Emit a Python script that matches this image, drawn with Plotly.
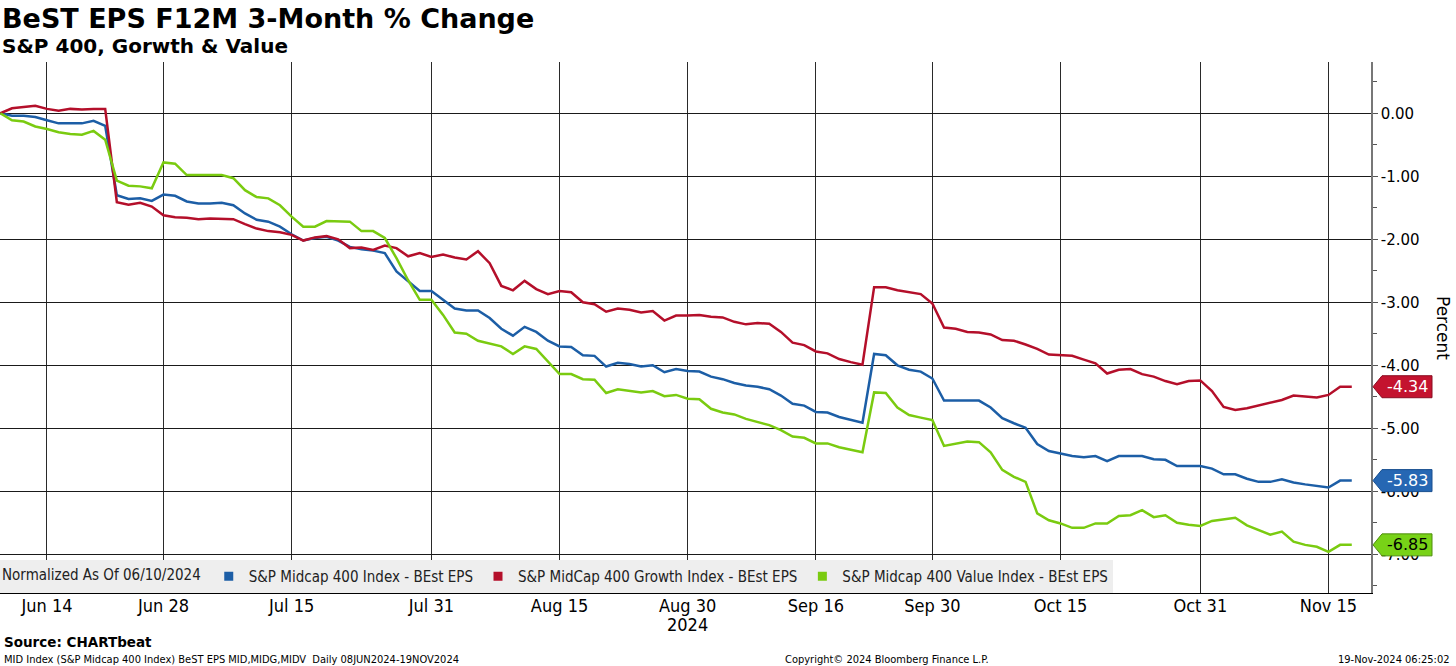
import pandas as pd
import plotly.graph_objects as go

# ---------------- data ----------------
dates = pd.bdate_range("2024-06-10", "2024-11-19")  # weekday calendar (Bloomberg style)

mid400 = [0.00, -0.04, -0.04, -0.06, -0.11, -0.16, -0.16, -0.16, -0.12, -0.20,
          -1.30, -1.36, -1.35, -1.39, -1.29, -1.31, -1.40, -1.43, -1.43, -1.42,
          -1.46, -1.59, -1.69, -1.72, -1.80, -1.92, -2.02, -1.98, -1.96, -2.02,
          -2.12, -2.16, -2.18, -2.22, -2.51, -2.67, -2.82, -2.82, -2.96, -3.10,
          -3.13, -3.13, -3.25, -3.42, -3.53, -3.39, -3.47, -3.61, -3.70, -3.71,
          -3.84, -3.85, -4.02, -3.96, -3.98, -4.02, -4.00, -4.11, -4.06, -4.09,
          -4.10, -4.18, -4.22, -4.28, -4.32, -4.34, -4.38, -4.48, -4.61, -4.64,
          -4.74, -4.75, -4.82, -4.87, -4.91, -3.82, -3.84, -4.00, -4.07, -4.10,
          -4.21, -4.56, -4.56, -4.56, -4.56, -4.67, -4.84, -4.92, -4.99, -5.25,
          -5.36, -5.40, -5.44, -5.46, -5.44, -5.52, -5.44, -5.44, -5.44, -5.49,
          -5.50, -5.60, -5.60, -5.60, -5.64, -5.73, -5.73, -5.80, -5.85, -5.85,
          -5.81, -5.86, -5.89, -5.92, -5.94, -5.83, -5.83]

growth = [0.00, 0.08, 0.10, 0.12, 0.07, 0.04, 0.07, 0.06, 0.07, 0.07,
          -1.41, -1.45, -1.42, -1.48, -1.62, -1.65, -1.66, -1.68, -1.67, -1.67,
          -1.68, -1.76, -1.83, -1.87, -1.89, -1.93, -2.02, -1.97, -1.95, -2.00,
          -2.14, -2.13, -2.17, -2.10, -2.14, -2.27, -2.22, -2.28, -2.24, -2.29,
          -2.32, -2.19, -2.38, -2.74, -2.81, -2.66, -2.79, -2.87, -2.82, -2.84,
          -3.00, -3.03, -3.15, -3.10, -3.12, -3.16, -3.14, -3.29, -3.21, -3.21,
          -3.20, -3.23, -3.24, -3.31, -3.35, -3.33, -3.34, -3.47, -3.64, -3.68,
          -3.78, -3.81, -3.90, -3.95, -3.99, -2.76, -2.76, -2.81, -2.84, -2.87,
          -3.02, -3.40, -3.42, -3.47, -3.48, -3.51, -3.60, -3.61, -3.67, -3.74,
          -3.83, -3.84, -3.85, -3.91, -3.97, -4.13, -4.07, -4.06, -4.14, -4.18,
          -4.25, -4.30, -4.25, -4.24, -4.41, -4.66, -4.71, -4.68, -4.64, -4.60,
          -4.55, -4.48, -4.50, -4.51, -4.47, -4.34, -4.34]

value = [0.00, -0.11, -0.13, -0.21, -0.25, -0.30, -0.33, -0.34, -0.28, -0.42,
         -1.07, -1.15, -1.16, -1.19, -0.78, -0.80, -0.98, -0.98, -0.98, -0.98,
         -1.03, -1.22, -1.33, -1.35, -1.46, -1.64, -1.80, -1.80, -1.71, -1.72,
         -1.72, -1.87, -1.87, -1.98, -2.30, -2.65, -2.96, -2.96, -3.20, -3.48,
         -3.50, -3.61, -3.66, -3.70, -3.82, -3.70, -3.74, -3.94, -4.14, -4.14,
         -4.22, -4.23, -4.44, -4.38, -4.40, -4.43, -4.41, -4.49, -4.47, -4.53,
         -4.54, -4.69, -4.75, -4.78, -4.85, -4.90, -4.95, -5.03, -5.13, -5.15,
         -5.24, -5.24, -5.30, -5.34, -5.38, -4.43, -4.44, -4.67, -4.79, -4.83,
         -4.87, -5.28, -5.25, -5.21, -5.22, -5.38, -5.66, -5.77, -5.85, -6.35,
         -6.46, -6.51, -6.58, -6.58, -6.51, -6.51, -6.39, -6.38, -6.30, -6.41,
         -6.38, -6.50, -6.53, -6.55, -6.47, -6.45, -6.42, -6.54, -6.62, -6.69,
         -6.64, -6.80, -6.85, -6.88, -6.96, -6.85, -6.85]

series_names = ["S&P Midcap 400 Index - BEst EPS",
                "S&P MidCap 400 Growth Index - BEst EPS",
                "S&P Midcap 400 Value Index - BEst EPS"]
series_values = [mid400, growth, value]
line_colors = ["#1c5ea6", "#b40f2a", "#7acb10"]
tag_colors = ["#2667b3", "#c4132f", "#78d217"]
tag_text_colors = ["white", "white", "black"]
tag_border_colors = ["#184f8f", "#8a0c20", "#4f8e0c"]

tick_dates = ["2024-06-14", "2024-06-28", "2024-07-15", "2024-07-31", "2024-08-15",
              "2024-08-30", "2024-09-16", "2024-09-30", "2024-10-15", "2024-10-31",
              "2024-11-15"]
tick_labels = ["Jun 14", "Jun 28", "Jul 15", "Jul 31", "Aug 15", "Aug 30",
               "Sep 16", "Sep 30", "Oct 15", "Oct 31", "Nov 15"]
y_ticks = [0, -1, -2, -3, -4, -5, -6, -7]
y_tick_labels = ["0.00", "-1.00", "-2.00", "-3.00", "-4.00", "-5.00", "-6.00", "-7.00"]

# ---------------- layout geometry ----------------
W, H = 1456, 666
ML, MR, MT, MB = 0, 85, 62, 73
PW, PH = W - ML - MR, H - MT - MB
Y0, Y1 = -7.614, 0.814

def px_x(px):
    return (px - ML) / PW

def px_y(py):
    return (H - MB - py) / PH

x_idx = list(range(len(dates)))
date_pos = {d.strftime("%Y-%m-%d"): i for i, d in enumerate(dates)}
tick_pos = [date_pos[d] for d in tick_dates]

fig = go.Figure()

for name, vals, col in zip(series_names, series_values, line_colors):
    fig.add_trace(go.Scatter(x=x_idx, y=vals, mode="lines", name=name,
                             line=dict(color=col, width=2.5), showlegend=False,
                             hoverinfo="skip"))

# legend entries with square swatches
for name, col in zip(series_names, line_colors):
    fig.add_trace(go.Scatter(x=[None], y=[None], mode="markers", name=name,
                             marker=dict(symbol="square", size=9, color=col)))

narrow = "Liberation Sans Narrow, Arial Narrow, DejaVu Sans Condensed, sans-serif"
dejavu = "DejaVu Sans, Verdana, sans-serif"

fig.update_layout(
    width=W, height=H,
    margin=dict(l=ML, r=MR, t=MT, b=MB),
    paper_bgcolor="white", plot_bgcolor="white",
    showlegend=True,
    legend=dict(orientation="h", x=0, y=0, xanchor="left", yanchor="bottom",
                bgcolor="#eeeeee", borderwidth=0,
                font=dict(family=narrow, size=15, color="#222"),
                title=dict(text="Normalized As Of 06/10/2024", side="left",
                           font=dict(family=narrow, size=15, color="#222")),
                itemwidth=30, tracegroupgap=0),
    xaxis=dict(range=[-0.03, 117.65], tickmode="array", tickvals=tick_pos,
               ticktext=tick_labels, showgrid=True, gridcolor="#2a2a2a",
               gridwidth=1, zeroline=False, showline=True, linecolor="black",
               linewidth=1, ticks="", ticklabelstandoff=-4,
               tickfont=dict(family=narrow, size=18, color="black"),
               fixedrange=True),
    yaxis=dict(range=[Y0, Y1], side="right", tickmode="array",
               tickvals=y_ticks, ticktext=y_tick_labels, showgrid=True,
               gridcolor="#1a1a1a", gridwidth=1, zeroline=False,
               showline=True, linecolor="#777", linewidth=1.5,
               ticks="outside", ticklen=5, tickcolor="#555",
               minor=dict(tickvals=[v - 0.5 for v in y_ticks] + [0.5],
                          ticks="outside", ticklen=4, tickcolor="#555"),
               tickfont=dict(family=dejavu, size=15, color="black"),
               fixedrange=True),
)

def pann(text, px, py, xanchor="left", size=12, family=dejavu, color="black", **kw):
    return dict(text=text, x=px_x(px), y=px_y(py), xref="paper", yref="paper",
                xanchor=xanchor, yanchor="middle", showarrow=False,
                font=dict(family=family, size=size, color=color), **kw)

anns = [
    pann("<b>BeST EPS F12M 3-Month % Change</b>", 0, 18, size=27),
    pann("<b>S&P 400, Gorwth & Value</b>", 0, 46, size=20),
    pann("Percent", 1443, 328, xanchor="center", size=17, textangle=90),
    pann("<b>Source: CHARTbeat</b>", 2, 642, size=13.5),
    pann("MID Index (S&P Midcap 400 Index) BeST EPS MID,MIDG,MIDV  Daily 08JUN2024-19NOV2024",
         2, 659, size=11, family=narrow),
    pann("Copyright© 2024 Bloomberg Finance L.P.", 887, 659, xanchor="center",
         size=11, family=narrow),
    pann("19-Nov-2024 06:25:02", 1452, 659, xanchor="right", size=11, family=narrow),
]
# year label under Aug 30
anns.append(dict(text="2024", x=tick_pos[5], xref="x", y=px_y(624), yref="paper",
                 xanchor="center", yanchor="middle", showarrow=False,
                 font=dict(family=narrow, size=18, color="black")))

# last-value tags
shapes = []
h = 11 / (PH / (Y1 - Y0))  # half-height in data units
xa, xb, xc = px_x(1373), px_x(1382), px_x(1432)
for vals, fc, bc, tc in zip(series_values, tag_colors, tag_border_colors, tag_text_colors):
    v = vals[-1]
    path = (f"M {xa},{v} L {xb},{v + h} L {xc},{v + h} L {xc},{v - h} "
            f"L {xb},{v - h} Z")
    shapes.append(dict(type="path", path=path, xref="paper", yref="y",
                       fillcolor=fc, line=dict(color=bc, width=1), layer="above"))
    anns.append(dict(text=f"{v:.2f}", x=(xb + xc) / 2, y=v, xref="paper", yref="y",
                     xanchor="center", yanchor="middle", showarrow=False,
                     font=dict(family=dejavu, size=16, color=tc)))

fig.update_layout(annotations=anns, shapes=shapes)
fig.write_html("out.html", config={"displayModeBar": False},
               post_script="document.body.style.margin='0px';document.body.style.padding='0px';")
